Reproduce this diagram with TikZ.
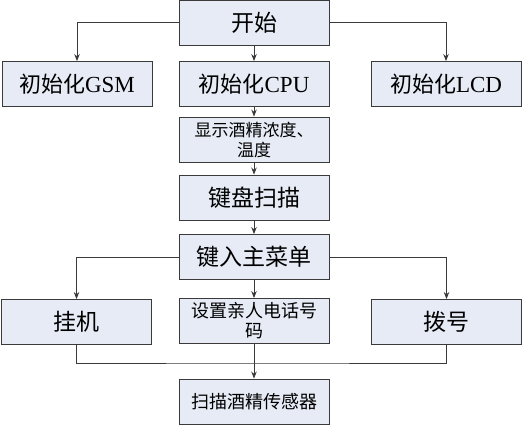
\documentclass[tikz,border=0pt]{standalone}
\usepackage{fontspec}
\setmainfont{Noto Sans CJK SC}
\newfontfamily\latinserif{Liberation Serif}
\usetikzlibrary{arrows.meta}
\definecolor{boxfill}{HTML}{E6EBF5}
\definecolor{boxline}{HTML}{3A3A3A}
\tikzset{
  box/.style={draw=boxline, line width=0.9pt, fill=boxfill, minimum width=150pt, minimum height=45pt, inner sep=0pt, align=center, text width=150pt},
  conn/.style={draw=boxline, line width=0.8pt},
  arr/.style={conn, -{Stealth[length=7pt,width=5.5pt]}}
}
\begin{document}
\begin{tikzpicture}[x=1pt,y=-1pt]
\useasboundingbox (0,0) rectangle (523,425);
\node[box, font=\fontsize{23}{24}\selectfont] (start) at (254,22.5) {开始};
\node[box, font=\fontsize{22}{24}\selectfont] (gsm) at (77,84) {初始化{\latinserif\fontsize{23}{24}\selectfont GSM}};
\node[box, font=\fontsize{22}{24}\selectfont] (cpu) at (254,84) {初始化{\latinserif\fontsize{23}{24}\selectfont CPU}};
\node[box, font=\fontsize{22}{24}\selectfont] (lcd) at (446,84) {初始化{\latinserif\fontsize{23}{24}\selectfont LCD}};
\node[box, font=\fontsize{17}{20}\selectfont] (disp) at (254,139.5) {显示酒精浓度、\\温度};
\node[box, font=\fontsize{23}{24}\selectfont] (kb) at (254,197.5) {键盘扫描};
\node[box, font=\fontsize{23}{24}\selectfont] (menu) at (254,257) {键入主菜单};
\node[box, font=\fontsize{23}{24}\selectfont] (hang) at (76.5,322) {挂机};
\node[box, font=\fontsize{18}{20}\selectfont] (set) at (254,321) {设置亲人电话号\\码};
\node[box, font=\fontsize{23}{24}\selectfont] (dial) at (446.5,322) {拨号};
\node[box, font=\fontsize{18}{20}\selectfont] (scan) at (254,401.5) {扫描酒精传感器};
\coordinate (mid) at (254,363);
\draw[arr] (start.west) -| (gsm.north);
\draw[arr] (start.east) -| (lcd.north);
\draw[arr] (start.south) -- (cpu.north);
\draw[arr] (cpu.south) -- (disp.north);
\draw[arr] (disp.south) -- (kb.north);
\draw[arr] (kb.south) -- (menu.north);
\draw[arr] (menu.west) -| (hang.north);
\draw[arr] (menu.east) -| (dial.north);
\draw[arr] (menu.south) -- (set.north);
\draw[conn] (hang.south) |- (mid) -| (dial.south);
\draw[arr] (set.south) -- (scan.north);
\end{tikzpicture}
\end{document}
